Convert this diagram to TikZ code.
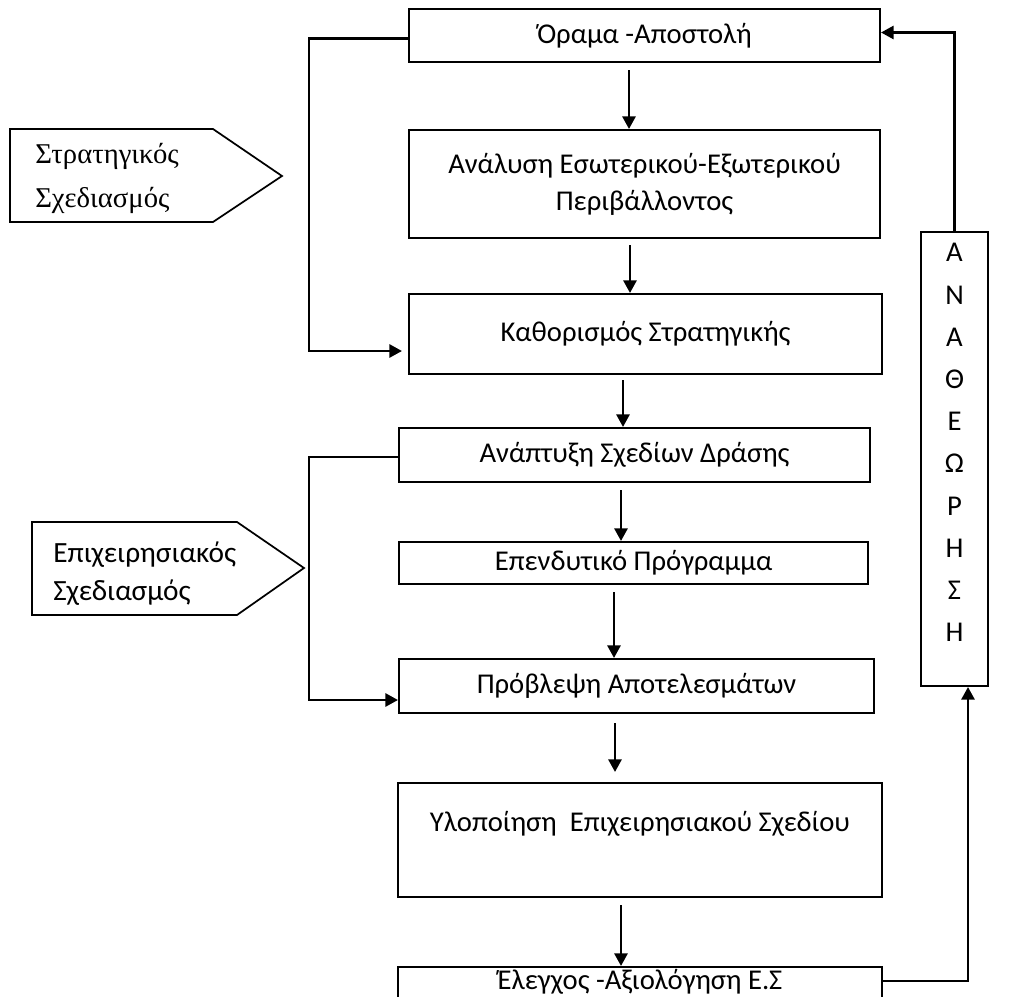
\documentclass[tikz,border=0pt]{standalone}
\usepackage{fontspec}
\setmainfont{Carlito}
\newfontfamily\timesgr{Liberation Serif}
\usetikzlibrary{arrows.meta, positioning, calc}
\tikzset{
  box/.style={
    rectangle, draw=black, fill=white, line width=1.6pt,
    inner sep=0pt, align=center,
    font=\fontsize{21.5}{27.75}\selectfont
  },
  tag/.style={draw=black, line width=1.3pt},
  tagtext/.style={anchor=west, align=left, inner sep=0pt},
  arrow/.style={-{Triangle[length=9.5pt,width=10pt]}, line width=1.6pt},
}

\begin{document}
\begin{tikzpicture}[x=0.75pt, y=-0.75pt]
  \useasboundingbox (0,0) rectangle (1010,996);
  \clip (0,0) rectangle (1010,996);

  \node[box, minimum width=353.25pt, minimum height=39.75pt] (vision) at (644.5,35.5) {Όραμα -Αποστολή};
  \node[box, minimum width=353.25pt, minimum height=81pt] (analysis) at (644.5,184) {Ανάλυση Εσωτερικού-Εξωτερικού\\Περιβάλλοντος};
  \node[box, minimum width=354.75pt, minimum height=60pt] (strategy) at (645.5,334) {Καθορισμός Στρατηγικής};
  \node[box, minimum width=353.25pt, minimum height=40.5pt] (actions) at (634.5,455) {Ανάπτυξη Σχεδίων Δράσης};
  \node[box, minimum width=351.75pt, minimum height=31.5pt] (invest) at (633.5,563) {Επενδυτικό Πρόγραμμα};
  \node[box, minimum width=356.25pt, minimum height=40.5pt] (forecast) at (636.5,686) {Πρόβλεψη Αποτελεσμάτων};
  \node[box, minimum width=363pt, minimum height=85.5pt] (implement) at (640,840) {Υλοποίηση\ \ Επιχειρησιακού Σχεδίου\\ \mbox{}};
  \node[box, minimum width=363pt, minimum height=53.25pt] (control) at (640,1002.5) {Έλεγχος -Αξιολόγηση Ε.Σ\\[7pt] \mbox{}};

  \node[box, minimum width=50.25pt, minimum height=340.5pt, font=\fontsize{21.5}{31.65}\selectfont] (review) at (954.5,459)
    {Α\\Ν\\Α\\Θ\\Ε\\Ω\\Ρ\\Η\\Σ\\Η\\[-7pt] \mbox{}};

  \draw[tag] (10,129) -- (213,129) -- (282,176) -- (213,222) -- (10,222) -- cycle;
  \node[tagtext, font=\timesgr\fontsize{21.5}{33}\selectfont] (stratlabel) at (35,178) {Στρατηγικός\\Σχεδιασμός};
  \draw[tag] (32,522) -- (237,522) -- (304,568) -- (237,615) -- (32,615) -- cycle;
  \node[tagtext, font=\fontsize{22}{28.5}\selectfont] (operlabel) at (53,574) {Επιχειρησιακός\\Σχεδιασμός};

  \draw[arrow] ($(vision.south)+(-15.5,7)$) -- ($(analysis.north)+(-15.5,0)$);
  \draw[arrow] ($(analysis.south)+(-14.5,6)$) -- ($(strategy.north)+(-15.5,0)$);
  \draw[arrow] ($(strategy.south)+(-22.5,5)$) -- ($(actions.north)+(-11.5,0)$);
  \draw[arrow] ($(actions.south)+(-13.5,7)$) -- ($(invest.north)+(-12.5,0)$);
  \draw[arrow] ($(invest.south)+(-19.5,7)$) -- ($(forecast.north)+(-22.5,0)$);
  \draw[arrow] ($(forecast.south)+(-21.5,9)$) -- ($(implement.north)+(-25,-10)$);
  \draw[arrow] ($(implement.south)+(-19,7)$) -- ($(control.north)+(-19,0)$);

  \draw[arrow] ($(vision.west)+(0,3)$) -| ($(strategy.west)+(-99,17)$) -- ($(strategy.west)+(-6,17)$);
  \draw[arrow] ($(actions.west)+(0,2)$) -| ($(forecast.west)+(-89,14)$) -- ($(forecast.west)+(0,14)$);

  \draw[arrow] (review.north) |- ($(vision.east)+(0,-3)$);
  \draw[arrow] ($(control.north east)+(0,15)$) -| ($(review.south)+(13.5,0)$);
\end{tikzpicture}
\end{document}
